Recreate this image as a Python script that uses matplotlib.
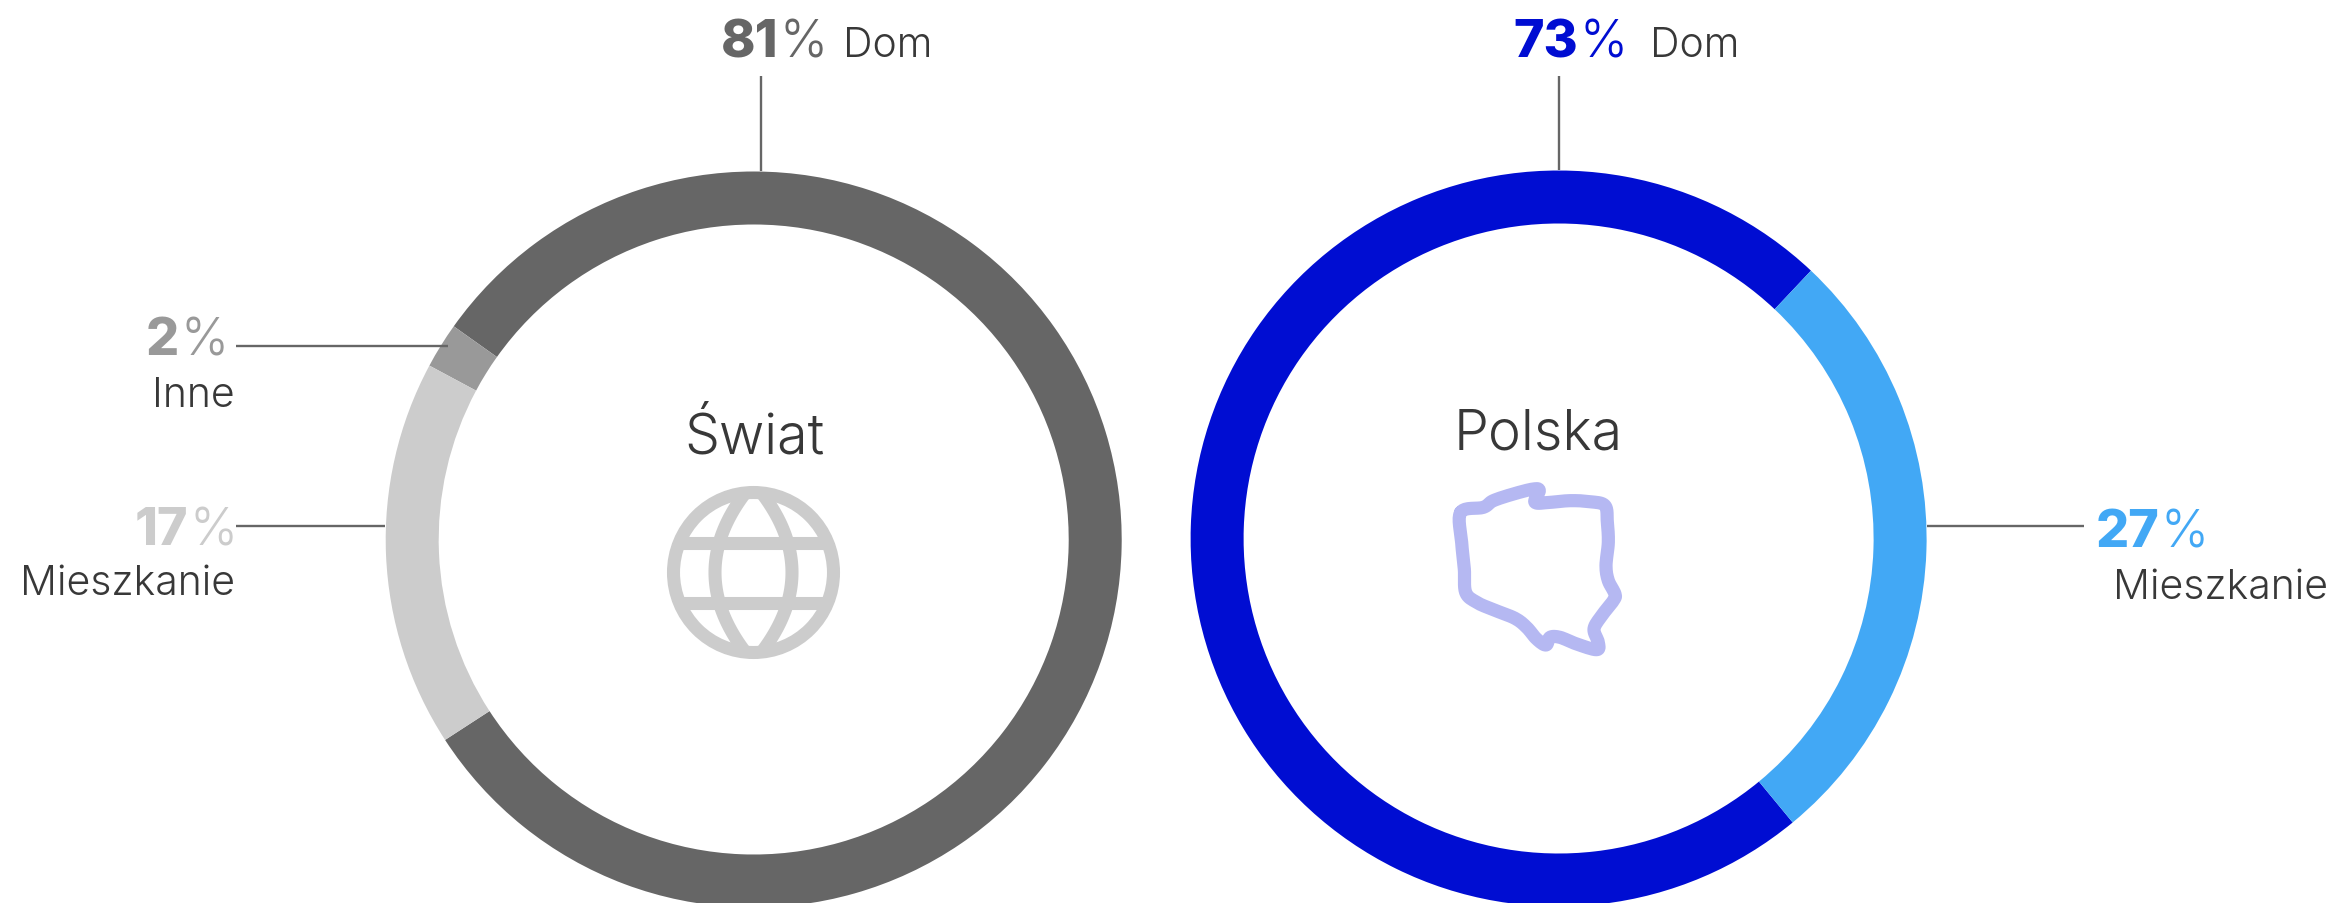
import matplotlib
matplotlib.use("Agg")
import matplotlib.pyplot as plt
import numpy as np
from matplotlib.patches import Circle

W, H = 2333, 904

swiat_labels = ['Dom', 'Inne', 'Mieszkanie']
swiat_values = [81, 2, 17]
swiat_colors = ['#666666', '#999999', '#cccccc']

polska_labels = ['Dom', 'Mieszkanie']
polska_values = [73, 27]
polska_colors = ['#000dd2', '#42a8f5']

TEXT = '#383838'
LINE = '#666666'
FONT = 'Inter'

# kontur Polski (ikona), piksele obrazka
poland_x = [122, 125, 133, 137, 170, 220, 285, 320, 350, 378, 390, 420, 470, 530, 535, 522,
            545, 580, 585, 565, 558, 565, 562, 555, 510, 450, 390, 345, 358, 340, 280, 220, 190, 122]
poland_y = [160, 250, 330, 400, 430, 452, 478, 505, 540, 558, 535, 535, 555, 572, 550, 510,
            470, 425, 405, 365, 320, 250, 190, 140, 128, 125, 130, 130, 95, 90, 105, 125, 145, 160]


def Y(y):
    return H - y


def smooth(xs, ys, n=8):
    # Catmull-Rom, zeby kontur nie byl kanciasty
    p = np.column_stack([xs, ys], ).astype(float)
    p = np.vstack([p[-2], p, p[1]])
    out = []
    for i in range(1, len(p) - 2):
        for t in np.linspace(0, 1, n, endpoint=False):
            out.append(0.5 * (2 * p[i] + (p[i + 1] - p[i - 1]) * t
                              + (2 * p[i - 1] - 5 * p[i] + 4 * p[i + 1] - p[i + 2]) * t ** 2
                              + (3 * p[i] - p[i - 1] - 3 * p[i + 1] + p[i + 2]) * t ** 3))
    out.append(p[-2])
    return np.array(out)


fig = plt.figure(figsize=(W / 100, H / 100), dpi=100)
ax = fig.add_axes([0, 0, 1, 1])

R = 368
ring = 53
ax.pie(swiat_values, colors=swiat_colors, startangle=213.0, center=(753.7, Y(540.5)), radius=R,
       wedgeprops={'width': ring, 'linewidth': 0})
ax.pie(polska_values, colors=polska_colors, startangle=46.7, center=(1558.6, Y(539.5)), radius=R,
       wedgeprops={'width': ring, 'linewidth': 0})
ax.set_xlim(0, W)
ax.set_ylim(0, H)
ax.set_aspect('equal')
ax.axis('off')

# linie odniesienia
for xs, ys in [([761, 761], [77, 172]), ([236, 448], [346.5, 346.5]), ([236, 385], [527, 527]),
               ([1559, 1559], [77, 171]), ([1927, 2084], [527, 527])]:
    ax.plot(xs, [Y(v) for v in ys], color=LINE, lw=1.7, solid_capstyle='butt')


def num(x, y, s, color):
    ax.text(x, Y(y), s, color=color, fontsize=37.5, fontweight=800, family=FONT, ha='right', va='baseline')


def pct(x, y, color):
    ax.text(x, Y(y), '%', color=color, fontsize=37, fontweight=300, family=FONT, ha='left', va='baseline')


def lab(x, y, s, size=29.5, ha='left'):
    ax.text(x, Y(y), s, color=TEXT, fontsize=size, fontweight=300, family=FONT, ha=ha, va='baseline')


num(778, 57, '81', swiat_colors[0])
pct(779, 57, swiat_colors[0])
lab(843, 57, swiat_labels[0])

num(179, 355, '2', swiat_colors[1])
pct(180, 355, swiat_colors[1])
lab(235, 407, swiat_labels[1], ha='right')

num(188, 545, '17', swiat_colors[2])
pct(189, 545, swiat_colors[2])
lab(235, 595, swiat_labels[2], ha='right')

lab(754, 454, 'Świat', size=40, ha='center')

num(1578, 57, '73', polska_colors[0])
pct(1579, 57, polska_colors[0])
lab(1650, 57, polska_labels[0])

num(2159, 547, '27', polska_colors[1])
pct(2160, 547, polska_colors[1])
lab(2113, 599, polska_labels[1])

lab(1454, 450, 'Polska', size=40)

# ikona globusa
gx, gy = 753.5, Y(573.5)
gc = '#cccccc'
glw = 9.4
ax.add_patch(Circle((gx, gy), 80, fill=False, ec=gc, lw=glw))
dy = np.linspace(-80, 80, 81)
for sign in [-1, 1]:
    ax.plot(gx + sign * (38.5 - 0.00478 * dy ** 2), gy + dy, color=gc, lw=glw, solid_capstyle='butt')
for off in [-30, 30]:
    ax.plot([gx - 74, gx + 74], [gy + off, gy + off], color=gc, lw=glw, solid_capstyle='butt')

# ikona Polski
outline = smooth(poland_x, poland_y)
ax.plot(1420 + outline[:, 0] / 3, H - (460 + outline[:, 1] / 3), color='#b5b8f2', lw=9.5,
        solid_joinstyle='round', solid_capstyle='round')

fig.savefig('out.png', dpi=100, facecolor='white')
